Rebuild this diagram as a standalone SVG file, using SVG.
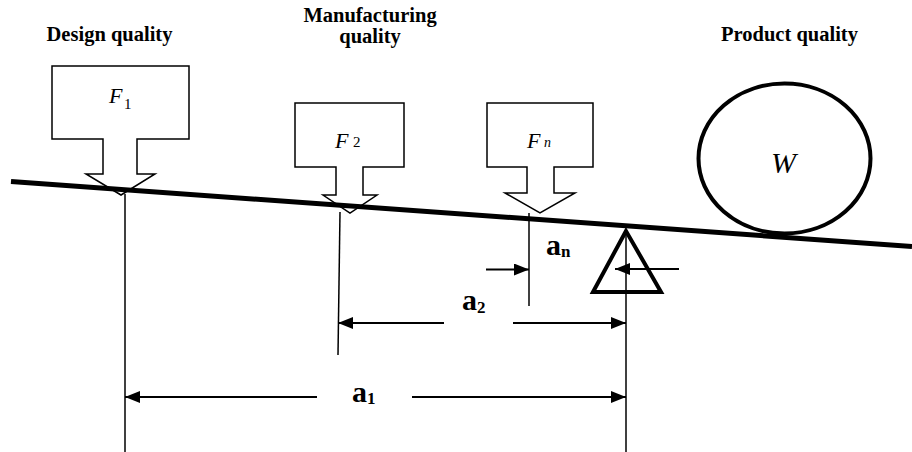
<svg xmlns="http://www.w3.org/2000/svg" width="912" height="452" viewBox="0 0 912 452">
  <style>
    text { font-family: 'Liberation Serif', 'DejaVu Serif', serif; fill: #000; }
    .hdr { font-weight: bold; font-size: 20.5px; text-anchor: middle; }
    .force { fill: #fff; stroke: #000; stroke-width: 1.5; stroke-linejoin: miter; }
    .fi { font-style: italic; font-size: 22px; }
    .fsub { font-size: 15px; }
    .fsubi { font-style: italic; font-size: 14px; }
    .ext { stroke: #000; stroke-width: 1.5; fill: none; }
    .dim { stroke: #000; stroke-width: 2; fill: none; marker-end: url(#ah); }
    .lab { font-weight: bold; font-size: 30px; }
    .labsub { font-weight: bold; font-size: 17px; }
  </style>
  <defs>
    <marker id="ah" markerUnits="userSpaceOnUse" markerWidth="16" markerHeight="12" refX="15" refY="6" orient="auto">
      <path d="M0,0 L15,6 L0,12 z" fill="#000"/>
    </marker>
  </defs>
  <rect width="912" height="452" fill="#fff"/>

  <g id="headers">
    <text class="hdr" x="109.5" y="40.5">Design quality</text>
    <text class="hdr" x="370" y="22">Manufacturing</text>
    <text class="hdr" x="370" y="43">quality</text>
    <text class="hdr" x="789.5" y="41">Product quality</text>
  </g>

  <g id="connectors">
    <line class="ext" x1="125" y1="194" x2="125" y2="452"/>
    <line class="ext" x1="340" y1="212" x2="338" y2="355"/>
    <line class="ext" x1="529" y1="213" x2="529" y2="306"/>
    <line class="ext" x1="626" y1="229" x2="626" y2="452"/>
    <line class="dim" x1="317" y1="397" x2="125" y2="397"/>
    <line class="dim" x1="412" y1="397" x2="626" y2="397"/>
    <line class="dim" x1="444" y1="323" x2="338" y2="323"/>
    <line class="dim" x1="513" y1="323" x2="626" y2="323"/>
    <line class="dim" x1="486" y1="269.5" x2="529" y2="269.5"/>
    <line class="dim" x1="679" y1="269" x2="615" y2="269"/>
  </g>

  <g id="F1">
    <path class="force" d="M52,66 H189 V139 H137 V174 H155 L121,195 L86,174 H103 V139 H52 Z"/>
    <text class="fi" x="109" y="103">F</text>
    <text class="fsub" x="124" y="109">1</text>
  </g>

  <g id="F2">
    <path class="force" d="M295,103 H404 V167 H363 V195 H377 L350,213 L323,195 H336 V167 H295 Z"/>
    <text class="fi" x="335" y="148">F</text>
    <text class="fsub" x="353" y="147">2</text>
  </g>

  <g id="Fn">
    <path class="force" d="M487,103 H593 V167 H554 V193 H575 L540,213 L505,193 H527 V167 H487 Z"/>
    <text class="fi" x="527" y="148">F</text>
    <text class="fsubi" x="544" y="147">n</text>
  </g>

  <g id="beam">
    <line x1="11" y1="181.5" x2="912" y2="246.5" stroke="#000" stroke-width="5"/>
  </g>

  <g id="W">
    <ellipse cx="784.5" cy="158.5" rx="86" ry="75" fill="none" stroke="#000" stroke-width="4"/>
    <text class="fi" x="783.5" y="173" style="font-size:30px" text-anchor="middle">W</text>
  </g>

  <g id="pivot">
    <polygon points="626,231 593,292 661,292" fill="none" stroke="#000" stroke-width="4" stroke-linejoin="miter"/>
  </g>

  <g id="labels">
    <text class="lab" x="352" y="402">a<tspan class="labsub" dy="2">1</tspan></text>
    <text class="lab" x="462" y="310">a<tspan class="labsub" dy="3">2</tspan></text>
    <text class="lab" x="546" y="255">a<tspan class="labsub" dy="2">n</tspan></text>
  </g>
</svg>
